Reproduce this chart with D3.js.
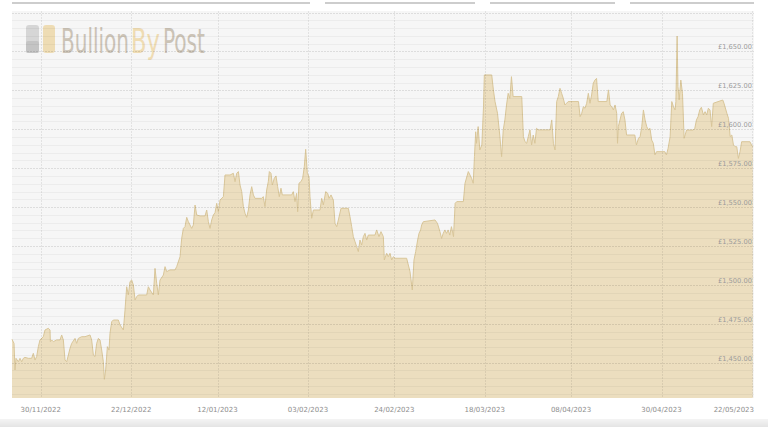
<!DOCTYPE html>
<html><head><meta charset="utf-8">
<script src="https://cdn.jsdelivr.net/npm/d3@7"></script>
<style>html,body{margin:0;padding:0;background:#fff;overflow:hidden}</style>
</head><body>
<svg id="c" width="768" height="427"></svg>
<script>
// ---- data ----
const startDate = "2022-11-23";
const dayOffsets = [
0,0.49,0.73,0.97,1.54,1.95,2.35,2.76,3.16,3.97,4.78,5.19,5.6,6.0,6.41,6.81,7.62,8.03,8.84,9.25,9.33,9.65,10.06,10.87,11.68,12.08,12.49,12.9,13.3,13.71,14.11,14.52,15.33,15.73,16.14,16.95,17.76,18.98,19.38,19.79,20.19,20.6,21.01,21.41,21.82,22.22,22.47,22.79,23.2,23.6,23.84,24.25,24.65,25.87,26.28,27.09,27.49,27.9,28.3,28.71,29.12,29.52,29.93,30.33,30.74,32.77,33.17,33.58,34.39,34.79,35.2,35.6,36.01,36.82,37.23,37.63,38.44,39.66,40.06,40.88,41.28,41.69,42.09,42.5,42.9,43.71,44.12,44.53,44.93,45.74,46.96,47.36,47.77,48.17,48.58,48.99,49.39,49.8,50.2,50.61,51.42,51.82,53.04,53.85,54.26,54.66,55.07,55.47,55.88,56.28,56.69,57.09,57.5,57.91,58.31,58.72,59.12,
60.73,61.13,61.54,61.95,62.35,62.6,63.0,63.33,63.81,64.22,64.62,65.03,65.43,65.76,68.03,68.43,68.84,69.24,69.49,69.81,70.3,70.71,71.11,71.44,71.84,72.25,72.49,72.9,73.31,74.93,75.33,75.74,76.31,76.8,77.12,77.61,78.17,78.58,78.99,79.39,80.04,81.82,82.22,82.63,83.03,83.44,83.84,84.25,84.65,85.06,85.47,85.87,86.28,86.68,88.3,88.71,89.27,89.76,90.33,90.57,91.14,91.54,91.95,92.36,92.76,93.17,96.0,96.41,96.82,97.38,97.79,98.2,98.68,99.01,99.41,99.65,100.06,102.9,103.5,104.1,104.5,104.9,105.3,105.7,106.1,106.5,106.9,107.4,107.8,108.2,109.8,110.2,111.0,111.8,112.2,112.5,112.8,113.0,113.4,113.8,114.3,114.7,114.9,116.7,117.1,117.5,118.1,118.7,
119.1,119.5,119.9,120.3,120.7,121.1,121.5,121.9,124.0,124.4,124.8,125.2,125.6,126.0,126.4,126.8,127.2,127.6,128.0,130.9,131.3,131.7,132.1,132.5,132.9,133.3,133.7,134.1,134.5,134.9,135.3,137.8,138.2,138.6,139.0,139.4,139.8,140.2,140.6,141.0,141.4,141.8,142.2,142.6,144.7,145.1,145.5,145.9,146.3,146.7,147.1,147.3,147.5,147.9,148.3,148.7,149.1,149.5,151.5,151.9,152.4,152.8,153.2,153.6,154.0,154.4,154.8,155.2,155.6,156.0,156.4,156.8,158.8,159.2,159.6,160.1,160.5,160.9,161.3,161.5,161.8,162.0,162.3,162.7,163.1,163.5,164.1,165.7,166.1,166.5,166.9,167.3,167.7,168.2,168.6,169.0,169.4,169.8,170.2,170.6,172.9,173.2,173.9,174.3,174.7,175.1,175.5,175.9,176.3,176.7,177.1,177.5,179.5,179.9,180.2
];
const prices = [
1465.0,1462.4,1445.3,1452.8,1450.6,1452.8,1450.6,1452.8,1453.4,1452.8,1452.8,1456.0,1451.7,1453.9,1460.3,1464.6,1466.7,1471.0,1472.1,1471.0,1463.5,1464.6,1463.5,1464.6,1464.6,1467.8,1464.6,1451.7,1450.6,1454.9,1459.2,1462.4,1465.6,1462.4,1465.6,1466.7,1466.7,1467.8,1464.6,1454.9,1453.9,1462.4,1465.6,1464.6,1458.1,1450.6,1439.3,1445.3,1460.3,1458.1,1468.9,1476.3,1477.4,1477.4,1474.2,1471.0,1483.8,1498.8,1493.5,1502.1,1503.1,1499.9,1490.3,1492.4,1493.5,1493.5,1498.8,1496.7,1493.5,1510.6,1501.0,1493.5,1503.1,1506.3,1511.7,1508.5,1509.6,1509.6,1511.7,1518.1,1529.9,1536.3,1537.4,1543.4,1540.6,1536.3,1538.5,1551.3,1544.9,1544.3,1544.3,1548.1,1540.6,1536.3,1541.7,1544.9,1546.4,1552.4,1547.0,1554.5,1556.7,1570.6,1570.6,1571.7,1566.3,1571.7,1572.8,1564.2,1559.9,1550.3,1546.0,1543.4,1548.1,1557.8,1563.1,1557.8,1555.6,
1555.6,1556.7,1550.3,1561.0,1566.3,1572.8,1571.7,1564.2,1568.5,1570.0,1563.1,1556.7,1562.1,1557.8,1557.8,1559.9,1553.5,1558.8,1547.0,1565.3,1566.3,1568.5,1576.0,1587.1,1571.7,1569.6,1556.7,1542.8,1548.1,1548.1,1555.6,1551.4,1559.9,1558.8,1555.6,1557.8,1554.5,1539.5,1537.4,1541.7,1549.2,1549.2,1543.8,1537.4,1531.0,1527.8,1524.6,1521.4,1528.8,1525.6,1531.0,1533.1,1528.8,1532.0,1532.0,1535.3,1531.0,1534.2,1531.0,1516.0,1520.3,1518.1,1520.3,1516.0,1518.1,1517.1,1517.1,1512.8,1508.5,1496.7,1516.0,1521.4,1528.8,1533.1,1535.3,1538.5,1540.6,1541.7,1539.5,1534.2,1529.9,1533.1,1535.3,1533.1,1535.3,1532.0,1537.4,1531.0,1552.4,1553.5,1553.5,1565.3,1572.8,1568.5,1565.3,1582.4,1598.4,1591.0,1601.7,1586.7,1589.9,1614.5,1634.9,1634.9,1625.3,1617.8,1610.3,1595.0,
1582.4,1599.5,1606.0,1615.6,1623.1,1619.9,1633.8,1621.0,1621.0,1595.3,1592.0,1591.0,1595.3,1599.6,1589.9,1596.3,1591.0,1600.6,1599.6,1599.6,1606.0,1591.0,1586.7,1617.8,1621.0,1626.3,1623.1,1619.9,1615.6,1616.7,1617.8,1617.8,1608.1,1610.3,1614.5,1613.5,1616.7,1623.1,1616.7,1622.0,1629.5,1631.6,1632.7,1617.8,1617.8,1625.3,1615.6,1614.5,1612.4,1615.6,1610.3,1591.0,1601.7,1606.0,1610.3,1611.3,1606.0,1596.3,1596.3,1589.9,1594.2,1595.3,1601.7,1612.4,1606.0,1601.7,1599.6,1600.6,1593.1,1591.0,1583.5,1585.6,1585.6,1583.5,1587.7,1595.2,1617.8,1614.5,1612.4,1617.8,1659.9,1627.4,1618.8,1631.6,1623.1,1594.2,1599.5,1599.5,1600.6,1606.0,1608.1,1612.4,1614.1,1609.2,1611.3,1609.2,1613.5,1612.4,1601.7,1616.7,1618.8,1616.7,1610.3,1607.0,1595.3,1596.3,1589.9,1588.8,1588.8,1581.3,1585.6,1592.0,1592.0,1589.9,1588.8
];
const xTickLabels = ["30/11/2022","22/12/2022","12/01/2023","03/02/2023","24/02/2023","18/03/2023","08/04/2023","30/04/2023","22/05/2023"];
const yTickValues = [1450,1475,1500,1525,1550,1575,1600,1625,1650];
const logoWords = ["Bullion","By","Post"];

// ---- layout ----
const W = 768, H = 427;
const plot = {left: 12, right: 754, top: 11, bottom: 398};
const svg = d3.select("#c");

const parse = d3.timeParse("%Y-%m-%d");
const t0 = parse(startDate);
const data = dayOffsets.map((d, i) => ({date: new Date(t0.getTime() + d * 864e5), v: prices[i]}));

const x = d3.scaleTime()
  .domain([t0, new Date(t0.getTime() + 180.5 * 864e5)])
  .range([plot.left, plot.right]);
const y = d3.scaleLinear().domain([1427.3, 1676]).range([plot.bottom, plot.top]);

// top navigator-like bars
[[12,310],[325,475],[490,615],[630,754]].forEach(s => {
  svg.append("rect").attr("x", s[0]).attr("y", 2).attr("width", s[1]-s[0]).attr("height", 2).attr("fill", "#cdcdcd");
});
// bottom band
const grad = svg.append("defs").append("linearGradient").attr("id","bg2").attr("x1",0).attr("x2",0).attr("y1",0).attr("y2",1);
grad.append("stop").attr("offset","0").attr("stop-color","#f4f4f4");
grad.append("stop").attr("offset","1").attr("stop-color","#e4e4e4");
svg.append("rect").attr("x",0).attr("y",419).attr("width",W).attr("height",8).attr("fill","url(#bg2)");

// plot background
svg.append("rect").attr("x", plot.left).attr("y", plot.top)
  .attr("width", plot.right - plot.left).attr("height", plot.bottom - plot.top).attr("fill", "#f6f6f6");

// logo watermark
const logo = svg.append("g");
logo.append("rect").attr("x",26).attr("y",25).attr("width",13).attr("height",28).attr("rx",3).attr("fill","#d6d6d6");
logo.append("rect").attr("x",26).attr("y",41).attr("width",13).attr("height",12).attr("rx",2).attr("fill","#c4c4c4");
logo.append("rect").attr("x",43).attr("y",25).attr("width",12).attr("height",28).attr("rx",3).attr("fill","#eedcb4");
const wordX = [61, 131, 163], wordLen = [68, 29, 42], wordCol = ["#cbc3b6","#efdcb3","#cbc3b6"];
logoWords.forEach((w, i) => {
  const t = logo.append("text").attr("x", 0).attr("y", 0)
    .attr("font-family","'Liberation Sans Narrow','DejaVu Sans Condensed','Roboto',sans-serif")
    .attr("font-size",33).attr("fill", wordCol[i]).text(w);
  const natural = t.node().getComputedTextLength();
  t.attr("transform", `translate(${wordX[i]},53) scale(${wordLen[i] / natural},1)`);
});

// area
const area = d3.area().x(d => x(d.date)).y0(plot.bottom).y1(d => y(d.v));
const line = d3.line().x(d => x(d.date)).y(d => y(d.v));
svg.append("path").datum(data).attr("d", area).attr("fill", "#ecdebf");
svg.append("path").datum(data).attr("d", line).attr("fill","none").attr("stroke","#d9c699").attr("stroke-width",1);

// horizontal grid lines (over area)
const grid = svg.append("g");
d3.range(1430, 1676, 5).forEach(v => {
  const major = v % 25 === 0;
  grid.append("line").attr("x1", plot.left).attr("x2", plot.right)
    .attr("y1", Math.round(y(v)) + 0.5).attr("y2", Math.round(y(v)) + 0.5)
    .attr("stroke", major ? "rgba(0,0,0,0.10)" : "rgba(0,0,0,0.04)")
    .attr("stroke-width", 1)
    .attr("stroke-dasharray", major ? "2,1" : null);
});
// vertical grid lines
const xParse = d3.timeParse("%d/%m/%Y");
const xTicks = xTickLabels.map(s => xParse(s));
xTicks.forEach(d => {
  grid.append("line").attr("x1", Math.round(x(d)) + 0.5).attr("x2", Math.round(x(d)) + 0.5)
    .attr("y1", plot.top).attr("y2", plot.bottom)
    .attr("stroke", "rgba(0,0,0,0.08)").attr("stroke-dasharray","2,1");
});

// y labels (inside, right)
const yAxis = svg.append("g");
yTickValues.forEach(v => {
  yAxis.append("text").attr("x", 752).attr("y", y(v) - 2)
    .attr("text-anchor","end").attr("font-family","'DejaVu Sans',Verdana,sans-serif")
    .attr("font-size", 6.7).attr("fill", "#9a9a9a")
    .text("£" + d3.format(",.2f")(v));
});

// x labels
const xAxis = svg.append("g");
xTicks.forEach((d, i) => {
  const last = i === xTicks.length - 1;
  xAxis.append("text").attr("x", last ? 754 : x(d)).attr("y", 411.5)
    .attr("text-anchor", last ? "end" : "middle")
    .attr("font-family","'DejaVu Sans',Verdana,sans-serif")
    .attr("font-size", 7).attr("fill", "#8e8e8e")
    .text(xTickLabels[i]);
});
</script>
</body></html>
